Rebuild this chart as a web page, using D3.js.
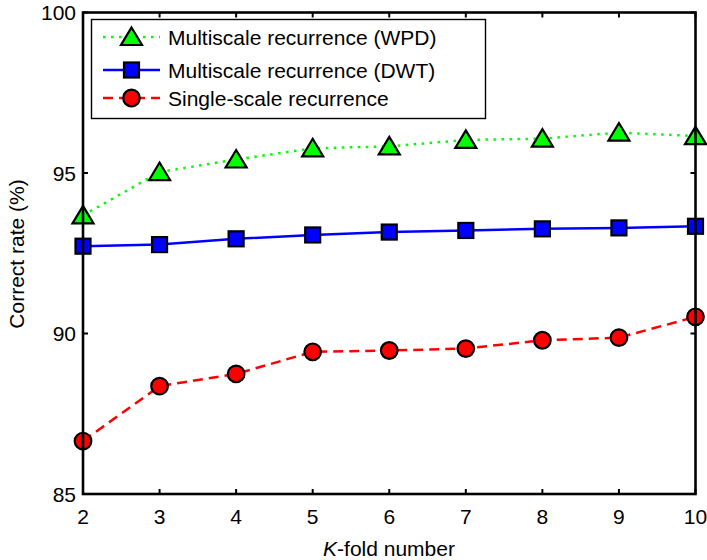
<!DOCTYPE html>
<html>
<head>
<meta charset="utf-8">
<script src="https://cdn.jsdelivr.net/npm/d3@7"></script>
<style>
  body { margin: 0; background: #fff; }
  text { font-family: "Liberation Sans", Arial, sans-serif; fill: #000; }
</style>
</head>
<body>
<div id="chart"></div>
<script>
// data
const kFolds = [2, 3, 4, 5, 6, 7, 8, 9, 10];
const wpd = [93.68, 95.03, 95.42, 95.77, 95.83, 96.03, 96.07, 96.26, 96.15];
const dwt = [92.72, 92.77, 92.95, 93.07, 93.16, 93.21, 93.26, 93.29, 93.34];
const single = [86.65, 88.36, 88.74, 89.43, 89.47, 89.53, 89.79, 89.87, 90.52];
const yTicks = [85, 90, 95, 100];
const seriesNames = ["Multiscale recurrence (WPD)", "Multiscale recurrence (DWT)", "Single-scale recurrence"];

const width = 707, height = 560;
const plotLeft = 83, plotRight = 695.5, plotTop = 12.5, plotBottom = 494;

const svg = d3.select("#chart").append("svg")
  .attr("width", width).attr("height", height);

const x = d3.scaleLinear().domain([2, 10]).range([plotLeft, plotRight]);
const y = d3.scaleLinear().domain([85, 100]).range([plotBottom, plotTop]);

const fontSize = 21;

// series styles
const series = [
  { name: seriesNames[0], values: wpd, color: "#00ff00", dash: "2.5,5.5", marker: "tri" },
  { name: seriesNames[1], values: dwt, color: "#0000ff", dash: null, marker: "sq" },
  { name: seriesNames[2], values: single, color: "#ff0000", dash: "10,6", marker: "circ" }
];

function drawMarker(g, type, color) {
  if (type === "tri") {
    g.append("path").attr("d", "M0,-9.5L10.5,8L-10.5,8Z")
      .attr("fill", color).attr("stroke", "#000").attr("stroke-width", 2.2)
      .attr("stroke-linejoin", "miter");
  } else if (type === "sq") {
    g.append("rect").attr("x", -7.5).attr("y", -7.5).attr("width", 15).attr("height", 15)
      .attr("fill", color).attr("stroke", "#000").attr("stroke-width", 2.2);
  } else {
    g.append("circle").attr("r", 8.3)
      .attr("fill", color).attr("stroke", "#000").attr("stroke-width", 2.2);
  }
}

const line = d3.line().x((d, i) => x(kFolds[i])).y(d => y(d));

// lines and markers (bottom series first so green sits on top)
series.slice().reverse().forEach(s => {
  svg.append("path").datum(s.values)
    .attr("d", line)
    .attr("fill", "none")
    .attr("stroke", s.color)
    .attr("stroke-width", 2.5)
    .attr("stroke-dasharray", s.dash);
});
series.slice().reverse().forEach(s => {
  s.values.forEach((v, i) => {
    const g = svg.append("g").attr("transform", `translate(${x(kFolds[i])},${y(v)})`);
    drawMarker(g, s.marker, s.color);
  });
});

// axes box
const tickLen = 5;
svg.append("rect")
  .attr("x", plotLeft).attr("y", plotTop)
  .attr("width", plotRight - plotLeft).attr("height", plotBottom - plotTop)
  .attr("fill", "none").attr("stroke", "#000").attr("stroke-width", 2.6);

// x ticks (inward, top and bottom)
kFolds.forEach(k => {
  svg.append("line").attr("x1", x(k)).attr("x2", x(k))
    .attr("y1", plotBottom).attr("y2", plotBottom - tickLen)
    .attr("stroke", "#000").attr("stroke-width", 2);
  svg.append("line").attr("x1", x(k)).attr("x2", x(k))
    .attr("y1", plotTop).attr("y2", plotTop + tickLen)
    .attr("stroke", "#000").attr("stroke-width", 2);
  svg.append("text").attr("x", x(k)).attr("y", 524)
    .attr("text-anchor", "middle").attr("font-size", fontSize).text(k);
});

// y ticks
yTicks.forEach(t => {
  svg.append("line").attr("x1", plotLeft).attr("x2", plotLeft + tickLen)
    .attr("y1", y(t)).attr("y2", y(t))
    .attr("stroke", "#000").attr("stroke-width", 2);
  svg.append("line").attr("x1", plotRight).attr("x2", plotRight - tickLen)
    .attr("y1", y(t)).attr("y2", y(t))
    .attr("stroke", "#000").attr("stroke-width", 2);
  svg.append("text").attr("x", 76).attr("y", y(t) + 7.5)
    .attr("text-anchor", "end").attr("font-size", fontSize).text(t);
});

// axis labels
const xl = svg.append("text").attr("x", 389).attr("y", 556)
  .attr("text-anchor", "middle").attr("font-size", fontSize);
xl.append("tspan").attr("font-style", "italic").text("K");
xl.append("tspan").text("-fold number");

svg.append("text")
  .attr("transform", "translate(24,254) rotate(-90)")
  .attr("text-anchor", "middle").attr("font-size", fontSize)
  .text("Correct rate (%)");

// legend
const lg = svg.append("g");
lg.append("rect").attr("x", 91.5).attr("y", 19.5).attr("width", 394).attr("height", 99)
  .attr("fill", "#fff").attr("stroke", "#000").attr("stroke-width", 1.4);
const rowY = [37, 70, 98];
series.forEach((s, i) => {
  lg.append("line").attr("x1", 103).attr("x2", 160)
    .attr("y1", rowY[i]).attr("y2", rowY[i])
    .attr("stroke", s.color).attr("stroke-width", 2.5)
    .attr("stroke-dasharray", s.dash);
  drawMarker(lg.append("g").attr("transform", `translate(131.5,${rowY[i]})`), s.marker, s.color);
  lg.append("text").attr("x", 168).attr("y", rowY[i] + 7.5)
    .attr("font-size", fontSize).text(s.name);
});
</script>
</body>
</html>
